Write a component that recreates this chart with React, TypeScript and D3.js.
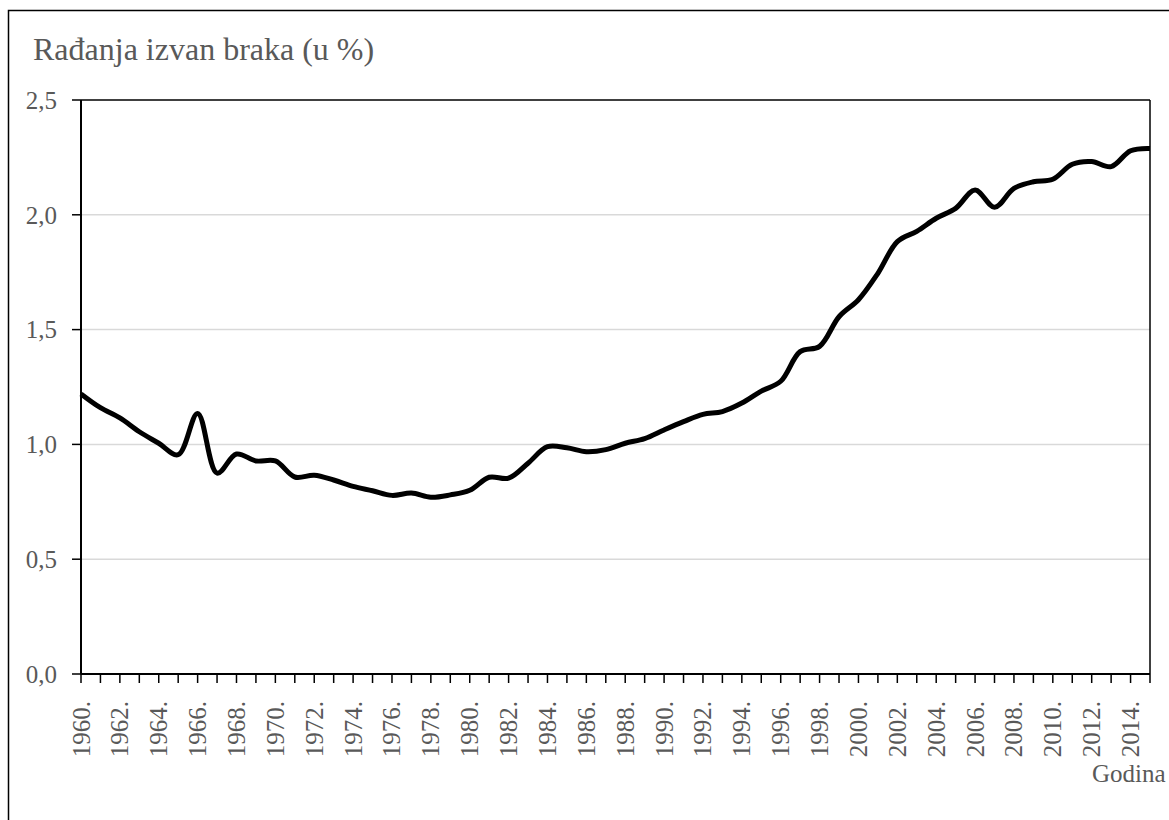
import React from "react";
import * as d3 from "d3";

const years: number[] = d3.range(1960, 2016);
const values: number[] = [
  1.22, 1.16, 1.115, 1.055, 1.005, 0.955, 1.135, 0.875, 0.958, 0.928,
  0.928, 0.858, 0.866, 0.845, 0.817, 0.798, 0.778, 0.788, 0.77, 0.78,
  0.8, 0.857, 0.853, 0.918, 0.99, 0.985, 0.968, 0.977, 1.005, 1.025,
  1.063, 1.099, 1.131, 1.143, 1.18, 1.232, 1.275, 1.404, 1.427, 1.556,
  1.63, 1.745, 1.883, 1.928, 1.985, 2.028, 2.108, 2.033, 2.115, 2.144,
  2.155, 2.22, 2.232, 2.21, 2.279, 2.289,
];
const yTicks: number[] = [0, 0.5, 1, 1.5, 2, 2.5];
const labelYears: number[] = d3.range(1960, 2015, 2);
const title = "Rađanja izvan braka (u %)";
const xTitle = "Godina";

const W = 1169;
const H = 820;
const left = 81;
const right = 1150;
const top = 100;
const bottom = 674;
const font = "Liberation Serif, Times New Roman, serif";
const grey = "#595959";

export default function App() {
  const x = d3.scaleLinear().domain([1960, 2015]).range([left, right]);
  const y = d3.scaleLinear().domain([0, 2.5]).range([bottom, top]);
  const line = d3
    .line<number>()
    .x((_, i) => x(years[i]))
    .y((d) => y(d))
    .curve(d3.curveCatmullRom.alpha(0.5));
  const fmt = (v: number) => v.toFixed(1).replace(".", ",");

  return (
    <div style={{ position: "fixed", left: 0, top: 0, width: W, height: H, overflow: "hidden", background: "#fff" }}>
      <svg width={W} height={H} style={{ display: "block" }}>
        <rect x={8.5} y={10.5} width={1300} height={1000} fill="#fff" stroke="#000" strokeWidth={1.5} />
        <text x={33} y={60} fontFamily={font} fontSize={32} fill={grey}>
          {title}
        </text>
        {yTicks
          .filter((t) => t > 0 && t < 2.5)
          .map((t) => (
            <line key={"g" + t} x1={left} x2={right} y1={y(t)} y2={y(t)} stroke="#d9d9d9" strokeWidth={1.5} />
          ))}
        <line x1={left} x2={right} y1={top} y2={top} stroke="#000" strokeWidth={1.5} />
        <line x1={right} x2={right} y1={top} y2={bottom} stroke="#000" strokeWidth={1.5} />
        {yTicks.map((t) => (
          <g key={"y" + t}>
            <line x1={left - 9} x2={left} y1={y(t)} y2={y(t)} stroke="#000" strokeWidth={1.5} />
            <text x={57} y={y(t)} dy="0.35em" textAnchor="end" fontFamily={font} fontSize={25} fill={grey}>
              {fmt(t)}
            </text>
          </g>
        ))}
        {years.map((yr) => (
          <line key={"xt" + yr} x1={x(yr)} x2={x(yr)} y1={bottom} y2={bottom + 9} stroke="#000" strokeWidth={1.5} />
        ))}
        {labelYears.map((yr) => (
          <text
            key={"xl" + yr}
            transform={`translate(${x(yr)},${bottom + 27}) rotate(-90)`}
            dy="0.34em"
            textAnchor="end"
            fontFamily={font}
            fontSize={25}
            fill={grey}
          >
            {yr + "."}
          </text>
        ))}
        <line x1={left} x2={left} y1={top} y2={bottom} stroke="#000" strokeWidth={2} />
        <line x1={left} x2={right} y1={bottom} y2={bottom} stroke="#000" strokeWidth={2} />
        <path d={line(values) || ""} fill="none" stroke="#000" strokeWidth={5} strokeLinejoin="round" />
        <text x={1092} y={782} fontFamily={font} fontSize={25} fill={grey}>
          {xTitle}
        </text>
      </svg>
    </div>
  );
}
